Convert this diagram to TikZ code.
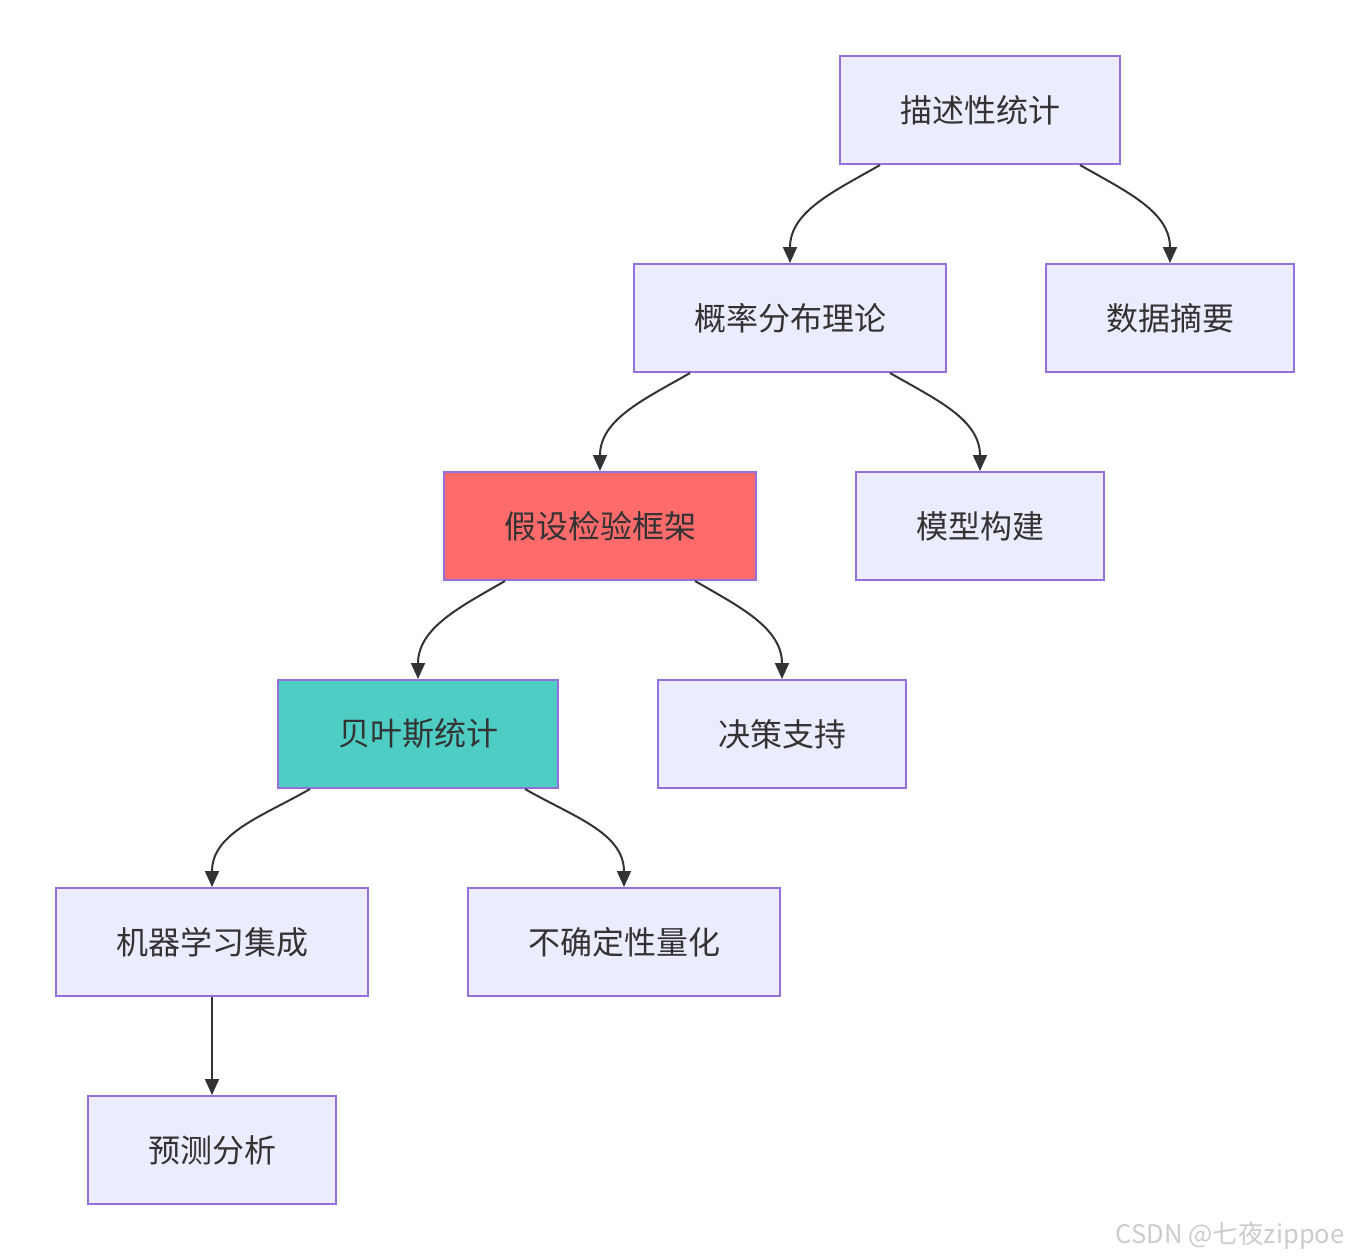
\documentclass[tikz,border=0pt]{standalone}
\usepackage{fontspec}
\setmainfont{Noto Sans CJK SC}
\usetikzlibrary{arrows.meta, positioning, calc}

\definecolor{boxfill}{HTML}{ECECFF}
\definecolor{boxline}{HTML}{9370DB}
\definecolor{inkgray}{HTML}{333333}
\definecolor{hotred}{HTML}{FF6B6B}
\definecolor{teal}{HTML}{4ECDC4}
\definecolor{markgray}{HTML}{CCCCCC}

\begin{document}
\begin{tikzpicture}[
  x=0.5pt, y=-0.5pt,
  block/.style = {draw=boxline, fill=boxfill, line width=1pt, minimum height=54pt,
                  text=inkgray, font=\fontsize{16}{19}\selectfont, align=center, inner sep=0pt},
  arrow/.style = {draw=inkgray, line width=1pt, -{Triangle[length=8pt,width=7pt]}}
]
  \useasboundingbox (0,0) rectangle (1350,1259);

  % first level
  \node[block, minimum width=140pt] (desc) at (980,110) {描述性统计};

  % second level
  \node[block, minimum width=156pt] (prob) at (790,318) {概率分布理论};
  \node[block, minimum width=124pt] (summ) at (1170,318) {数据摘要};

  % third level
  \node[block, minimum width=156pt, fill=hotred] (hyp) at (600,526) {假设检验框架};
  \node[block, minimum width=124pt] (model) at (980,526) {模型构建};

  % fourth level
  \node[block, minimum width=140pt, fill=teal] (bayes) at (418,734) {贝叶斯统计};
  \node[block, minimum width=124pt] (decis) at (782,734) {决策支持};

  % fifth level
  \node[block, minimum width=156pt] (ml) at (212,942) {机器学习集成};
  \node[block, minimum width=156pt] (uncert) at (624,942) {不确定性量化};

  % last level
  \node[block, minimum width=124pt] (pred) at (212,1150) {预测分析};

  % connectors
  \draw[arrow] ([xshift=-50pt]desc.south) to[out=-150, in=90] (prob.north);
  \draw[arrow] ([xshift=50pt]desc.south) to[out=-30, in=90] (summ.north);
  \draw[arrow] ([xshift=-50pt]prob.south) to[out=-150, in=90] (hyp.north);
  \draw[arrow] ([xshift=50pt]prob.south) to[out=-30, in=90] (model.north);
  \draw[arrow] ([xshift=-47.5pt]hyp.south) to[out=-150, in=90] (bayes.north);
  \draw[arrow] ([xshift=47.5pt]hyp.south) to[out=-30, in=90] (decis.north);
  \draw[arrow] ([xshift=-54pt]bayes.south) to[out=-150, in=90] (ml.north);
  \draw[arrow] ([xshift=53.5pt]bayes.south) to[out=-30, in=90] (uncert.north);
  \draw[arrow] (ml) -- (pred);

  % watermark
  \node[anchor=east, text=markgray, font=\fontsize{12.8}{15}\selectfont, inner sep=0pt] (mark) at (1345,1236) {CSDN @七夜zippoe};
\end{tikzpicture}
\end{document}
